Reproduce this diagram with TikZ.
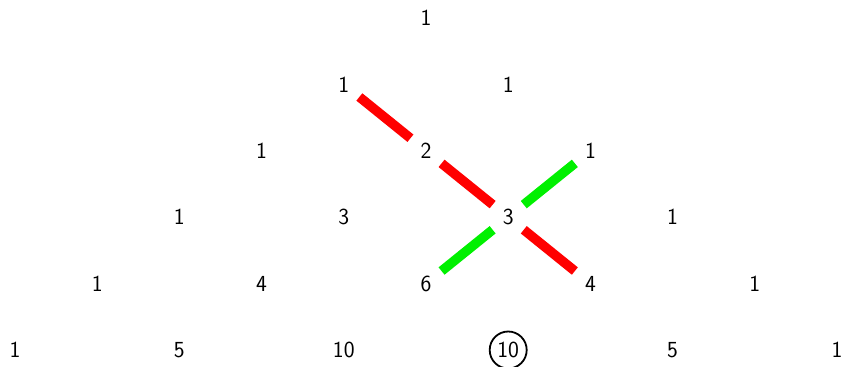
\documentclass[tikz,border=0pt]{standalone}
\definecolor{pathred}{HTML}{FF0000}
\definecolor{pathgreen}{HTML}{00F000}

\begin{document}
\begin{tikzpicture}[
  x=1pt,
  y=-1pt,
  entry/.style={font=\sffamily\fontsize{23}{26}\selectfont,inner sep=0pt},
  chosen/.style={draw=black,circle,line width=1.8pt,minimum size=37pt},
  redbar/.style={draw=pathred,line width=9.5pt,shorten <=20pt,shorten >=20pt},
  greenbar/.style={draw=pathgreen,line width=9.5pt,shorten <=20pt,shorten >=20pt}
]
  \useasboundingbox (0,0) rectangle (844,367);

  % Rows of the triangle, entry k of row n sits at (426+(2k-n)dx, 18+n dy).
  \foreach \v [count=\k from 0] in {1}
    \node[entry] (r0c\k) at ({426+(2*\k-0)*82.2},18) {\v};
  \foreach \v [count=\k from 0] in {1,1}
    \node[entry] (r1c\k) at ({426+(2*\k-1)*82.2},{18+1*66.4}) {\v};
  \foreach \v [count=\k from 0] in {1,2,1}
    \node[entry] (r2c\k) at ({426+(2*\k-2)*82.2},{18+2*66.4}) {\v};
  \foreach \v [count=\k from 0] in {1,3,3,1}
    \node[entry] (r3c\k) at ({426+(2*\k-3)*82.2},{18+3*66.4}) {\v};
  \foreach \v [count=\k from 0] in {1,4,6,4,1}
    \node[entry] (r4c\k) at ({426+(2*\k-4)*82.2},{18+4*66.4}) {\v};
  \foreach \v [count=\k from 0] in {1,5,10,10,5,1}
    \node[entry] (r5c\k) at ({426+(2*\k-5)*82.2},{18+5*66.4}) {\v};

  % The circled entry.
  \node[chosen] (pick) at (r5c3.center) {};

  % Red diagonal through 1, 2, 3, 4.
  \draw[redbar] (r1c0.center) -- (r2c1.center);
  \draw[redbar] (r2c1.center) -- (r3c2.center);
  \draw[redbar] (r3c2.center) -- (r4c3.center);

  % Green diagonal through 1, 3, 6.
  \draw[greenbar] (r2c2.center) -- (r3c2.center);
  \draw[greenbar] (r4c2.center) -- (r3c2.center);
\end{tikzpicture}
\end{document}
